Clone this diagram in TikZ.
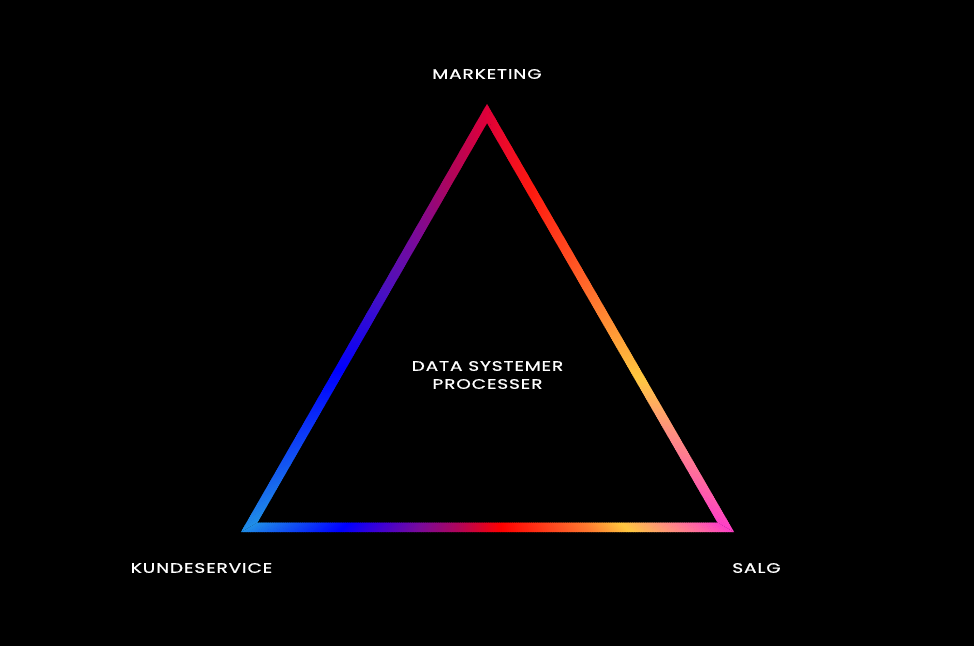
\documentclass[tikz,border=0pt]{standalone}
\usepackage{fontspec}
\newfontfamily\lblfont{Poppins}[FakeStretch=1.34, LetterSpace=6.5, FakeBold=0.8]
\usetikzlibrary{calc}
\definecolor{gLB}{HTML}{2090E8}
\definecolor{gBL}{HTML}{0000FF}
\definecolor{gIN}{HTML}{3A00D8}
\definecolor{gIN2}{HTML}{4A10C0}
\definecolor{gPU}{HTML}{7A0A9A}
\definecolor{gMA}{HTML}{B0055A}
\definecolor{gCR}{HTML}{E0003A}
\definecolor{gRE}{HTML}{FF0000}
\definecolor{gRE2}{HTML}{FF1A10}
\definecolor{gOR1}{HTML}{FF4A20}
\definecolor{gOR2}{HTML}{FF7A30}
\definecolor{gYE}{HTML}{FFC840}
\definecolor{gSA}{HTML}{FF9080}
\definecolor{gSA2}{HTML}{FF6AA0}
\definecolor{gPK}{HTML}{FF40C8}
% #1 O1, #2 O2, #3 I1, #4 I2, #5 ta, #6 tb, #7 ca, #8 cb
\newcommand\gradseg[8]{%
  \pgfmathtruncatemacro\gsN{max(2,(#6-#5)*220)}%
  \foreach \k in {1,...,\gsN}{%
    \pgfmathsetmacro\gsA{#5+(#6-#5)*(\k-1)/\gsN}%
    \pgfmathsetmacro\gsB{min(#5+(#6-#5)*\k/\gsN+0.002,1)}%
    \pgfmathtruncatemacro\gsP{100-100*(\k-0.5)/\gsN}%
    \fill[#7!\gsP!#8] ($(#1)!\gsA!(#2)$) -- ($(#1)!\gsB!(#2)$) -- ($(#3)!\gsB!(#4)$) -- ($(#3)!\gsA!(#4)$) -- cycle;
  }}
\tikzset{lbl/.style={text=white, font=\lblfont\fontsize{13.8}{18}\selectfont, inner sep=0pt, align=center}}
\begin{document}
\begin{tikzpicture}[x=1pt,y=-1pt]
\fill[black] (0,0) rectangle (974,646);
\useasboundingbox (0,0) rectangle (974,646);
\coordinate (oA) at (487,104);
\coordinate (oB) at (241,532);
\coordinate (oC) at (734,532);
\coordinate (iA) at (487,123);
\coordinate (iB) at (257.5,522.5);
\coordinate (iC) at (717.5,522.5);
% bottom edge, left to right
\gradseg{oB}{oC}{iB}{iC}{0.00}{0.20}{gLB}{gBL}
\gradseg{oB}{oC}{iB}{iC}{0.20}{0.27}{gBL}{gIN}
\gradseg{oB}{oC}{iB}{iC}{0.27}{0.36}{gIN}{gPU}
\gradseg{oB}{oC}{iB}{iC}{0.36}{0.44}{gPU}{gMA}
\gradseg{oB}{oC}{iB}{iC}{0.44}{0.53}{gMA}{gRE}
\gradseg{oB}{oC}{iB}{iC}{0.53}{0.64}{gRE}{gOR1}
\gradseg{oB}{oC}{iB}{iC}{0.64}{0.71}{gOR1}{gOR2}
\gradseg{oB}{oC}{iB}{iC}{0.71}{0.79}{gOR2}{gYE}
\gradseg{oB}{oC}{iB}{iC}{0.79}{0.88}{gYE}{gSA}
\gradseg{oB}{oC}{iB}{iC}{0.88}{1.00}{gSA}{gPK}
% left edge, bottom to top
\gradseg{oB}{oA}{iB}{iA}{0.00}{0.38}{gLB}{gBL}
\gradseg{oB}{oA}{iB}{iA}{0.38}{0.57}{gBL}{gIN2}
\gradseg{oB}{oA}{iB}{iA}{0.57}{0.70}{gIN2}{gPU}
\gradseg{oB}{oA}{iB}{iA}{0.70}{0.85}{gPU}{gMA}
\gradseg{oB}{oA}{iB}{iA}{0.85}{1.00}{gMA}{gCR}
% right edge, top to bottom
\gradseg{oA}{oC}{iA}{iC}{0.00}{0.19}{gCR}{gRE2}
\gradseg{oA}{oC}{iA}{iC}{0.19}{0.34}{gRE2}{gOR1}
\gradseg{oA}{oC}{iA}{iC}{0.34}{0.46}{gOR1}{gOR2}
\gradseg{oA}{oC}{iA}{iC}{0.46}{0.64}{gOR2}{gYE}
\gradseg{oA}{oC}{iA}{iC}{0.64}{0.77}{gYE}{gSA}
\gradseg{oA}{oC}{iA}{iC}{0.77}{0.88}{gSA}{gSA2}
\gradseg{oA}{oC}{iA}{iC}{0.88}{1.00}{gSA2}{gPK}
% labels
\node[lbl] (mkt) at (487,74) {MARKETING};
\node[lbl] (kund) at (201.5,568) {KUNDESERVICE};
\node[lbl] (salg) at (756.5,568) {SALG};
\node[lbl] (mid) at (487.5,375) {DATA SYSTEMER\\PROCESSER};
\end{tikzpicture}
\end{document}
